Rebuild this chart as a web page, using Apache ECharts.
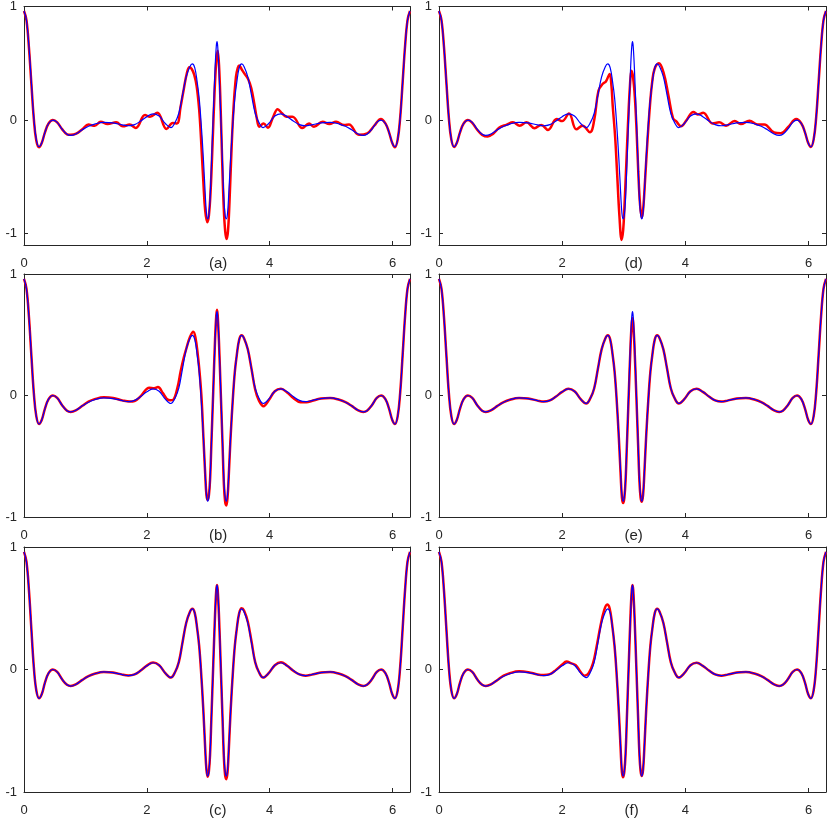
<!DOCTYPE html>
<html>
<head>
<meta charset="utf-8">
<script src="https://cdn.jsdelivr.net/npm/echarts@6/dist/echarts.min.js"></script>
<style>
html,body{margin:0;padding:0;background:#fff;}
#chart{width:830px;height:822px;}
</style>
</head>
<body>
<div id="chart"></div>
<script>
// ---- tick labels / panel names ----
const xTicks = [0, 2, 4, 6];
const yTicks = [-1, 0, 1];
const panelLabels = ['(a)', '(b)', '(c)', '(d)', '(e)', '(f)'];
const yMins = [-1.1, -1, -1, -1.1, -1, -1];
const xMax = 6.2832;

// ---- exact function (blue), same in every panel ----
const exact = [
[0,0.96],[0.04,0.88],[0.08,0.65],[0.12,0.33],[0.16,0.02],[0.2,-0.17],[0.245,-0.235],[0.29,-0.2],[0.34,-0.11],[0.4,-0.03],[0.47,0],[0.54,-0.02],[0.62,-0.08],[0.7,-0.125],[0.76,-0.135],[0.85,-0.12],[0.95,-0.085],[1.05,-0.055],[1.15,-0.035],[1.3,-0.02],[1.45,-0.025],[1.6,-0.042],[1.7,-0.05],[1.8,-0.04],[1.9,-0.008],[2,0.03],[2.1,0.055],[2.2,0.035],[2.3,-0.03],[2.39,-0.066],[2.46,-0.02],[2.52,0.06],[2.58,0.22],[2.64,0.38],[2.7,0.47],[2.74,0.495],[2.78,0.46],[2.82,0.33],[2.85,0.2],[2.88,0],[2.92,-0.34],[2.95,-0.65],[2.97,-0.82],[2.99,-0.87],[3.01,-0.83],[3.03,-0.68],[3.05,-0.4],[3.08,0.03],[3.11,0.45],[3.13,0.65],[3.142,0.69],
[3.153,0.65],[3.173,0.45],[3.203,0.03],[3.233,-0.4],[3.253,-0.68],[3.273,-0.83],[3.293,-0.87],[3.313,-0.82],[3.333,-0.65],[3.363,-0.34],[3.403,0],[3.433,0.2],[3.463,0.33],[3.503,0.46],[3.543,0.495],[3.583,0.47],[3.643,0.38],[3.703,0.22],[3.763,0.06],[3.823,-0.02],[3.893,-0.066],[3.983,-0.03],[4.083,0.035],[4.183,0.055],[4.283,0.03],[4.383,-0.008],[4.483,-0.04],[4.583,-0.05],[4.683,-0.042],[4.833,-0.025],[4.983,-0.02],[5.133,-0.035],[5.233,-0.055],[5.333,-0.085],[5.433,-0.12],[5.523,-0.135],[5.583,-0.125],[5.663,-0.08],[5.743,-0.02],[5.813,0],[5.883,-0.03],[5.943,-0.11],[5.993,-0.2],[6.038,-0.235],[6.083,-0.17],[6.123,0.02],[6.163,0.33],[6.203,0.65],[6.243,0.88],[6.283,0.96]
];

// ---- approximations (red), one per panel ----
const approxA = [
[0,0.96],[0.04,0.88],[0.08,0.64],[0.12,0.32],[0.16,0.01],[0.2,-0.18],[0.245,-0.24],[0.29,-0.2],[0.34,-0.11],[0.4,-0.03],[0.47,0],[0.54,-0.02],[0.62,-0.08],[0.7,-0.125],[0.76,-0.13],[0.85,-0.12],[0.95,-0.08],[1.05,-0.04],[1.15,-0.05],[1.25,-0.015],[1.36,-0.035],[1.5,-0.02],[1.61,-0.055],[1.72,-0.04],[1.82,-0.07],[1.97,0.044],[2.05,0.03],[2.17,0.064],[2.32,-0.078],[2.42,-0.025],[2.49,-0.03],[2.55,0.12],[2.6,0.27],[2.65,0.41],[2.692,0.465],[2.73,0.45],[2.77,0.4],[2.81,0.3],[2.85,0.1],[2.88,-0.15],[2.92,-0.55],[2.95,-0.8],[2.984,-0.9],[3.01,-0.84],[3.04,-0.6],[3.07,-0.2],[3.1,0.22],[3.13,0.52],[3.152,0.61],[3.175,0.48],[3.2,0.12],[3.225,-0.35],[3.25,-0.75],[3.275,-0.98],[3.298,-1.047],[3.32,-0.98],[3.345,-0.72],[3.375,-0.3],[3.41,0.1],[3.45,0.38],[3.48,0.46],[3.504,0.48],[3.54,0.45],[3.6,0.4],[3.65,0.36],[3.7,0.28],[3.75,0.14],[3.79,0.015],[3.83,-0.058],[3.9,-0.03],[3.97,-0.067],[4.05,0.02],[4.13,0.096],[4.2,0.06],[4.27,0.03],[4.37,0.03],[4.53,-0.07],[4.64,-0.03],[4.72,-0.058],[4.86,-0.015],[4.97,-0.035],[5.08,-0.015],[5.21,-0.044],[5.29,-0.038],[5.45,-0.13],[5.59,-0.116],[5.7,-0.05],[5.81,0.01],[5.883,-0.03],[5.943,-0.11],[5.993,-0.2],[6.038,-0.24],[6.083,-0.17],[6.123,0.02],[6.163,0.33],[6.203,0.65],[6.243,0.88],[6.283,0.96]
];
const approxB = [
[0,0.96],[0.04,0.88],[0.08,0.65],[0.12,0.33],[0.16,0.02],[0.2,-0.17],[0.245,-0.235],[0.29,-0.2],[0.34,-0.11],[0.4,-0.03],[0.47,0],[0.54,-0.02],[0.62,-0.08],[0.7,-0.125],[0.76,-0.135],[0.85,-0.12],[0.95,-0.085],[1.05,-0.05],[1.15,-0.03],[1.3,-0.015],[1.45,-0.02],[1.6,-0.04],[1.72,-0.05],[1.8,-0.045],[1.9,-0.005],[2.04,0.064],[2.12,0.06],[2.18,0.069],[2.26,0.02],[2.32,-0.025],[2.38,-0.04],[2.43,-0.035],[2.5,0.07],[2.55,0.2],[2.6,0.31],[2.65,0.4],[2.7,0.48],[2.755,0.525],[2.79,0.48],[2.83,0.33],[2.86,0.18],[2.89,-0.02],[2.92,-0.34],[2.95,-0.65],[2.97,-0.82],[2.99,-0.86],[3.01,-0.82],[3.03,-0.68],[3.05,-0.4],[3.08,0.03],[3.11,0.46],[3.13,0.66],[3.142,0.705],[3.153,0.66],[3.173,0.45],[3.203,0.02],[3.233,-0.42],[3.253,-0.72],[3.273,-0.87],[3.293,-0.905],[3.313,-0.84],[3.333,-0.66],[3.363,-0.34],[3.403,0],[3.433,0.2],[3.463,0.33],[3.503,0.46],[3.543,0.495],[3.583,0.47],[3.643,0.38],[3.703,0.22],[3.763,0.05],[3.823,-0.04],[3.9,-0.088],[3.983,-0.04],[4.083,0.035],[4.183,0.055],[4.283,0.025],[4.383,-0.02],[4.5,-0.055],[4.6,-0.055],[4.683,-0.045],[4.833,-0.025],[4.983,-0.02],[5.133,-0.035],[5.233,-0.055],[5.333,-0.085],[5.433,-0.12],[5.523,-0.135],[5.583,-0.125],[5.663,-0.08],[5.743,-0.02],[5.813,0],[5.883,-0.03],[5.943,-0.11],[5.993,-0.2],[6.038,-0.235],[6.083,-0.17],[6.123,0.02],[6.163,0.33],[6.203,0.65],[6.243,0.88],[6.283,0.96]
];
const approxC = [
[0,0.96],[0.04,0.88],[0.08,0.65],[0.12,0.33],[0.16,0.02],[0.2,-0.17],[0.245,-0.235],[0.29,-0.2],[0.34,-0.11],[0.4,-0.03],[0.47,0],[0.54,-0.02],[0.62,-0.08],[0.7,-0.125],[0.76,-0.135],[0.85,-0.12],[0.95,-0.085],[1.05,-0.055],[1.15,-0.035],[1.3,-0.02],[1.45,-0.025],[1.6,-0.042],[1.7,-0.048],[1.8,-0.04],[1.9,-0.008],[2,0.032],[2.1,0.057],[2.2,0.035],[2.3,-0.03],[2.39,-0.066],[2.46,-0.02],[2.52,0.06],[2.58,0.22],[2.64,0.38],[2.7,0.47],[2.74,0.495],[2.78,0.46],[2.82,0.33],[2.85,0.2],[2.88,0],[2.92,-0.34],[2.95,-0.65],[2.97,-0.82],[2.99,-0.875],[3.01,-0.83],[3.03,-0.68],[3.05,-0.4],[3.08,0.03],[3.11,0.45],[3.13,0.65],[3.142,0.69],[3.153,0.65],[3.173,0.45],[3.203,0.02],[3.233,-0.42],[3.253,-0.71],[3.273,-0.86],[3.293,-0.895],[3.313,-0.84],[3.333,-0.66],[3.363,-0.34],[3.403,0],[3.433,0.2],[3.463,0.33],[3.503,0.46],[3.543,0.5],[3.583,0.48],[3.643,0.39],[3.703,0.23],[3.763,0.06],[3.823,-0.02],[3.893,-0.066],[3.983,-0.03],[4.083,0.035],[4.183,0.06],[4.283,0.03],[4.383,-0.01],[4.483,-0.04],[4.583,-0.05],[4.683,-0.042],[4.833,-0.025],[4.983,-0.02],[5.133,-0.035],[5.233,-0.055],[5.333,-0.085],[5.433,-0.12],[5.523,-0.135],[5.583,-0.125],[5.663,-0.08],[5.743,-0.02],[5.813,0],[5.883,-0.03],[5.943,-0.11],[5.993,-0.2],[6.038,-0.235],[6.083,-0.17],[6.123,0.02],[6.163,0.33],[6.203,0.65],[6.243,0.88],[6.283,0.96]
];
const approxD = [
[0,0.96],[0.04,0.88],[0.08,0.65],[0.12,0.33],[0.16,0.02],[0.2,-0.17],[0.245,-0.237],[0.29,-0.2],[0.34,-0.11],[0.4,-0.03],[0.47,0],[0.54,-0.025],[0.62,-0.085],[0.7,-0.13],[0.79,-0.145],[0.88,-0.12],[0.98,-0.066],[1.1,-0.04],[1.2,-0.02],[1.31,-0.049],[1.42,-0.02],[1.55,-0.072],[1.66,-0.043],[1.77,-0.087],[1.91,0.009],[2,-0.009],[2.11,0.058],[2.23,-0.081],[2.33,-0.049],[2.45,-0.107],[2.52,0],[2.59,0.26],[2.66,0.32],[2.71,0.34],[2.77,0.405],[2.8,0.3],[2.82,0.13],[2.86,-0.15],[2.89,-0.45],[2.93,-0.85],[2.965,-1.055],[2.99,-0.97],[3.01,-0.77],[3.04,-0.4],[3.07,-0.015],[3.1,0.3],[3.125,0.435],[3.15,0.38],[3.18,0.2],[3.21,-0.12],[3.235,-0.45],[3.265,-0.75],[3.295,-0.86],[3.32,-0.75],[3.345,-0.535],[3.385,-0.18],[3.425,0.13],[3.46,0.33],[3.5,0.45],[3.57,0.5],[3.645,0.42],[3.725,0.217],[3.8,0.014],[3.85,-0.01],[3.93,-0.055],[4.02,0],[4.13,0.072],[4.2,0.05],[4.29,0.064],[4.44,-0.03],[4.55,-0.02],[4.66,-0.049],[4.8,-0.009],[4.9,-0.035],[5.04,-0.006],[5.17,-0.038],[5.28,-0.038],[5.44,-0.11],[5.55,-0.116],[5.67,-0.06],[5.8,0.009],[5.883,-0.03],[5.943,-0.11],[5.993,-0.2],[6.038,-0.237],[6.083,-0.17],[6.123,0.02],[6.163,0.33],[6.203,0.65],[6.243,0.88],[6.283,0.96]
];
const approxE = [
[0,0.96],[0.04,0.88],[0.08,0.65],[0.12,0.33],[0.16,0.02],[0.2,-0.17],[0.245,-0.235],[0.29,-0.2],[0.34,-0.11],[0.4,-0.03],[0.47,0],[0.54,-0.02],[0.62,-0.08],[0.7,-0.125],[0.76,-0.135],[0.85,-0.12],[0.95,-0.085],[1.05,-0.055],[1.15,-0.035],[1.3,-0.02],[1.45,-0.025],[1.6,-0.042],[1.7,-0.05],[1.8,-0.04],[1.9,-0.008],[2,0.03],[2.1,0.055],[2.2,0.035],[2.3,-0.03],[2.39,-0.066],[2.46,-0.02],[2.52,0.06],[2.58,0.22],[2.64,0.38],[2.7,0.47],[2.74,0.495],[2.78,0.46],[2.82,0.33],[2.85,0.2],[2.88,0],[2.92,-0.35],[2.95,-0.66],[2.97,-0.84],[2.99,-0.885],[3.01,-0.84],[3.03,-0.69],[3.05,-0.42],[3.08,0.0],[3.11,0.41],[3.13,0.6],[3.142,0.635],[3.153,0.6],[3.173,0.41],[3.203,0.01],[3.233,-0.41],[3.253,-0.69],[3.273,-0.84],[3.293,-0.875],[3.313,-0.82],[3.333,-0.65],[3.363,-0.34],[3.403,0],[3.433,0.2],[3.463,0.33],[3.503,0.46],[3.543,0.495],[3.583,0.47],[3.643,0.38],[3.703,0.22],[3.763,0.06],[3.823,-0.02],[3.893,-0.066],[3.983,-0.03],[4.083,0.035],[4.183,0.055],[4.283,0.03],[4.383,-0.008],[4.483,-0.04],[4.583,-0.05],[4.683,-0.042],[4.833,-0.025],[4.983,-0.02],[5.133,-0.035],[5.233,-0.055],[5.333,-0.085],[5.433,-0.12],[5.523,-0.135],[5.583,-0.125],[5.663,-0.08],[5.743,-0.02],[5.813,0],[5.883,-0.03],[5.943,-0.11],[5.993,-0.2],[6.038,-0.235],[6.083,-0.17],[6.123,0.02],[6.163,0.33],[6.203,0.65],[6.243,0.88],[6.283,0.96]
];
const approxF = [
[0,0.96],[0.04,0.88],[0.08,0.65],[0.12,0.33],[0.16,0.02],[0.2,-0.17],[0.245,-0.235],[0.29,-0.2],[0.34,-0.11],[0.4,-0.03],[0.47,0],[0.54,-0.02],[0.62,-0.08],[0.7,-0.125],[0.76,-0.135],[0.85,-0.12],[0.95,-0.085],[1.05,-0.05],[1.15,-0.03],[1.3,-0.015],[1.45,-0.022],[1.6,-0.04],[1.7,-0.045],[1.8,-0.038],[1.9,-0.003],[2,0.04],[2.07,0.065],[2.15,0.05],[2.22,0.035],[2.3,-0.02],[2.36,-0.05],[2.43,-0.03],[2.5,0.05],[2.56,0.19],[2.62,0.35],[2.68,0.48],[2.73,0.53],[2.77,0.5],[2.81,0.37],[2.85,0.19],[2.88,-0.01],[2.92,-0.35],[2.95,-0.66],[2.97,-0.84],[2.99,-0.88],[3.01,-0.83],[3.03,-0.68],[3.05,-0.4],[3.08,0.03],[3.11,0.45],[3.13,0.65],[3.142,0.69],[3.153,0.65],[3.173,0.45],[3.203,0.03],[3.233,-0.4],[3.253,-0.68],[3.273,-0.83],[3.293,-0.87],[3.313,-0.82],[3.333,-0.65],[3.363,-0.34],[3.403,0],[3.433,0.2],[3.463,0.33],[3.503,0.46],[3.543,0.495],[3.583,0.47],[3.643,0.38],[3.703,0.22],[3.763,0.06],[3.823,-0.02],[3.893,-0.066],[3.983,-0.03],[4.083,0.035],[4.183,0.055],[4.283,0.03],[4.383,-0.008],[4.483,-0.04],[4.583,-0.05],[4.683,-0.042],[4.833,-0.025],[4.983,-0.02],[5.133,-0.035],[5.233,-0.055],[5.333,-0.085],[5.433,-0.12],[5.523,-0.135],[5.583,-0.125],[5.663,-0.08],[5.743,-0.02],[5.813,0],[5.883,-0.03],[5.943,-0.11],[5.993,-0.2],[6.038,-0.235],[6.083,-0.17],[6.123,0.02],[6.163,0.33],[6.203,0.65],[6.243,0.88],[6.283,0.96]
];
const approxList = [approxA, approxB, approxC, approxD, approxE, approxF];

// ---- layout (pixels) ----
const cols = [{left: 24, width: 386}, {left: 439, width: 387}];
const rows = [{top: 3, height: 242}, {top: 274, height: 243}, {top: 547, height: 245}];

const axisColor = '#262626';
const font = 'Liberation Sans';

const grids = [], xAxes = [], yAxes = [], series = [], graphics = [];
for (let i = 0; i < 6; i++) {
  const c = cols[Math.floor(i / 3)], r = rows[i % 3];
  grids.push({left: c.left, top: r.top, width: c.width, height: r.height, containLabel: false, show: false});
  const lineStyle = {color: axisColor, width: 1};
  xAxes.push({
    gridIndex: i, type: 'value', min: 0, max: xMax, position: 'bottom',
    axisLine: {show: true, onZero: false, lineStyle},
    axisTick: {show: true, inside: true, length: 4, customValues: xTicks, lineStyle},
    axisLabel: {show: true, customValues: xTicks, margin: 12, fontSize: 13, color: axisColor, fontFamily: font},
    splitLine: {show: false}
  });
  xAxes.push({
    gridIndex: i, type: 'value', min: 0, max: xMax, position: 'top',
    axisLine: {show: true, onZero: false, lineStyle},
    axisTick: {show: true, inside: true, length: 4, customValues: xTicks, lineStyle},
    axisLabel: {show: false}, splitLine: {show: false}
  });
  yAxes.push({
    gridIndex: i, type: 'value', min: yMins[i], max: 1, position: 'left',
    axisLine: {show: true, onZero: false, lineStyle},
    axisTick: {show: true, inside: true, length: 4, customValues: yTicks, lineStyle},
    axisLabel: {show: true, customValues: yTicks, margin: 7, fontSize: 13, color: axisColor, fontFamily: font},
    splitLine: {show: false}
  });
  yAxes.push({
    gridIndex: i, type: 'value', min: yMins[i], max: 1, position: 'right',
    axisLine: {show: true, onZero: false, lineStyle},
    axisTick: {show: true, inside: true, length: 4, customValues: yTicks, lineStyle},
    axisLabel: {show: false}, splitLine: {show: false}
  });
  graphics.push({
    type: 'text', left: c.left + c.width / 2 - 8, top: r.top + r.height + 11,
    style: {text: panelLabels[i], font: '15px "Liberation Sans"', fill: axisColor, width: 20, align: 'center'},
    silent: true
  });
  series.push({
    type: 'line', xAxisIndex: 2 * i, yAxisIndex: 2 * i, data: approxList[i],
    showSymbol: false, symbol: 'none', smooth: 0.4,
    lineStyle: {color: '#ff0000', width: 2.5}, z: 2, silent: true
  });
  series.push({
    type: 'line', xAxisIndex: 2 * i, yAxisIndex: 2 * i, data: exact,
    showSymbol: false, symbol: 'none', smooth: 0.4,
    lineStyle: {color: '#0000ff', width: 1.2}, z: 3, silent: true
  });
}

const chart = echarts.init(document.getElementById('chart'), null, {renderer: 'canvas'});
chart.setOption({
  backgroundColor: '#ffffff',
  animation: false,
  grid: grids, xAxis: xAxes, yAxis: yAxes, series: series, graphic: graphics
});
</script>
</body>
</html>
